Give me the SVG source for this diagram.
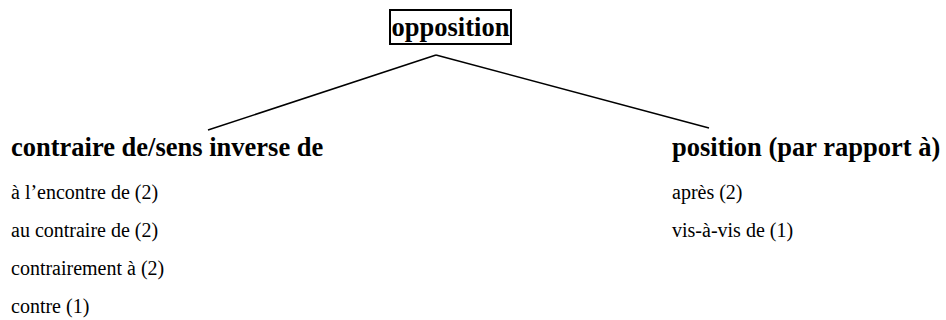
<svg xmlns="http://www.w3.org/2000/svg" width="946" height="320" viewBox="0 0 946 320">
<style>
text{font-family:"Liberation Serif","Times New Roman",serif;fill:#000}
.h{font-weight:bold;font-size:26.5px}
.t{font-size:20px}
.c{stroke:#000;stroke-width:1.5;fill:none}
</style>
<rect width="946" height="320" fill="#fff"/>
<g id="connectors">
<line class="c" x1="436" y1="55" x2="208" y2="130"/>
<line class="c" x1="436" y1="55" x2="709" y2="128"/>
</g>
<g id="root">
<rect x="390" y="10" width="121" height="34" fill="none" stroke="#000" stroke-width="2"/>
<text class="h" x="450.5" y="36" text-anchor="middle">opposition</text>
</g>
<g id="left">
<text class="h" x="11" y="156">contraire de/sens inverse de</text>
<text class="t" x="11" y="199">à l’encontre de (2)</text>
<text class="t" x="11" y="237">au contraire de (2)</text>
<text class="t" x="11" y="275">contrairement à (2)</text>
<text class="t" x="11" y="313">contre (1)</text>
</g>
<g id="right">
<text class="h" x="672" y="156">position (par rapport à)</text>
<text class="t" x="672" y="199">après (2)</text>
<text class="t" x="672" y="237">vis-à-vis de (1)</text>
</g>
</svg>
